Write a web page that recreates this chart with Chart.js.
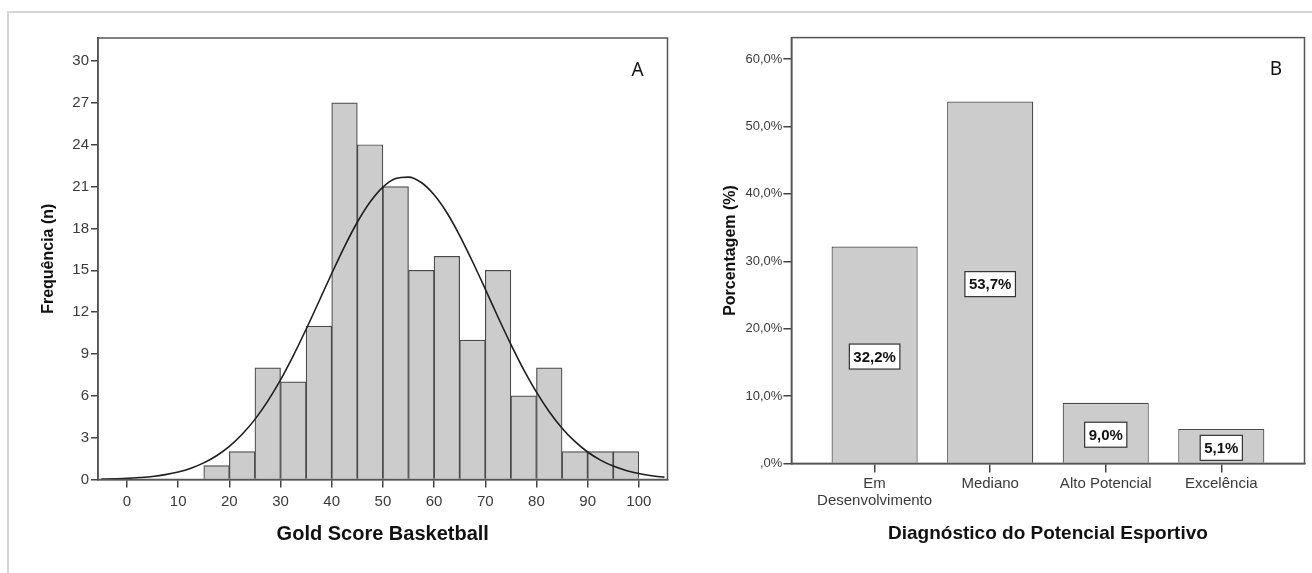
<!DOCTYPE html>
<html>
<head>
<meta charset="utf-8">
<script src="https://cdn.jsdelivr.net/npm/chart.js@4.4.1/dist/chart.umd.min.js"></script>
<style>
  body { margin: 0; background: #fff; width: 1312px; height: 573px; overflow: hidden; position: relative; }
  #frame { position: absolute; left: 7px; top: 11px; width: 1400px; height: 700px; border-left: 2px solid #d6d6d6; border-top: 2px solid #d6d6d6; }
  #chartA { position: absolute; left: 0; top: 0; }
  #chartB { position: absolute; left: 690px; top: 0; }
</style>
</head>
<body>
<div id="frame"></div>
<canvas id="chartA" width="690" height="573"></canvas>
<canvas id="chartB" width="622" height="573"></canvas>
<script>
// Panel A - histogram of Gold Score Basketball (bins of width 5)
const binCenters = [17.5, 22.5, 27.5, 32.5, 37.5, 42.5, 47.5, 52.5, 57.5, 62.5, 67.5, 72.5, 77.5, 82.5, 87.5, 92.5, 97.5];
const binCounts = [1, 2, 8, 7, 11, 27, 24, 21, 15, 16, 10, 15, 6, 8, 2, 2, 2];

// normal curve
const curveX = [-5, -2.5, 0, 2.5, 5, 7.5, 10, 12.5, 15, 17.5, 20, 22.5, 25, 27.5, 30, 32.5, 35, 37.5, 40, 42.5, 45, 47.5, 50,
  52.5, 55, 57.5, 60, 62.5, 65, 67.5, 70, 72.5, 75, 77.5, 80, 82.5, 85, 87.5, 90, 92.5, 95, 97.5, 100, 102.5, 105];
const curveY = [0.03, 0.05, 0.08, 0.14, 0.22, 0.35, 0.54, 0.81, 1.19, 1.70, 2.37, 3.24, 4.31, 5.62, 7.14, 8.88, 10.77, 12.76, 14.77, 16.70, 18.44, 19.89, 20.96,
  21.57, 21.68, 21.29, 20.41, 19.12, 17.49, 15.63, 13.65, 11.63, 9.69, 7.88, 6.26, 4.86, 3.68, 2.73, 1.97, 1.39, 0.96, 0.65, 0.43, 0.27, 0.17];

// Panel B - diagnostico do potencial esportivo
const categoriesB = [["Em", "Desenvolvimento"], "Mediano", "Alto Potencial", "Excelência"];
const pctB = [32.2, 53.7, 9.0, 5.1];

const SANS = '"Liberation Sans", Arial, sans-serif';
const AXIS = "#444";
const TICKTXT = "#3a3a3a";

function fmtPct(v) {
    return v.toFixed(1).replace(".", ",") + "%";
}

// box around the plot area
const boxFrame = {
    id: "boxFrame",
    afterDraw(chart) {
        const { ctx, chartArea: a } = chart;
        ctx.save();
        ctx.strokeStyle = "#555";
        ctx.lineWidth = 1.5;
        ctx.strokeRect(a.left, a.top, a.right - a.left, a.bottom - a.top);
        ctx.restore();
    },
};

// panel letter (A / B)
const panelLetter = {
    id: "panelLetter",
    afterDraw(chart, args, opts) {
        const { ctx, chartArea: a } = chart;
        ctx.save();
        ctx.font = '19px "Noto Sans", "Open Sans", sans-serif';
        ctx.fillStyle = "#111";
        ctx.textAlign = "center";
        ctx.textBaseline = "middle";
        ctx.fillText(opts.text, a.right + opts.dx, a.top + opts.dy);
        ctx.restore();
    },
};

// white boxed value labels inside the bars
const valueBoxes = {
    id: "valueBoxes",
    afterDatasetsDraw(chart) {
        const ctx = chart.ctx;
        const meta = chart.getDatasetMeta(0);
        ctx.save();
        ctx.font = "bold 15px " + SANS;
        ctx.textAlign = "center";
        ctx.textBaseline = "middle";
        meta.data.forEach((bar, i) => {
            const txt = fmtPct(pctB[i]);
            const cy = (bar.y + bar.base) / 2 + 2;
            const w = ctx.measureText(txt).width + 8;
            const h = 25;
            ctx.fillStyle = "#fff";
            ctx.fillRect(bar.x - w / 2, cy - h / 2, w, h);
            ctx.strokeStyle = "#333";
            ctx.lineWidth = 1.2;
            ctx.strokeRect(bar.x - w / 2, cy - h / 2, w, h);
            ctx.fillStyle = "#111";
            ctx.fillText(txt, bar.x, cy + 1);
        });
        ctx.restore();
    },
};

new Chart(document.getElementById("chartA"), {
    type: "bar",
    data: {
        datasets: [
            {
                type: "line",
                data: curveX.map((x, i) => ({ x: x, y: curveY[i] })),
                borderColor: "#1e1e1e",
                borderWidth: 1.6,
                pointRadius: 0,
                cubicInterpolationMode: "monotone",
                order: 0,
            },
            {
                data: binCenters.map((x, i) => ({ x: x, y: binCounts[i] })),
                backgroundColor: "#cccccc",
                borderColor: "#4a4a4a",
                borderWidth: 1.2,
                barPercentage: 1,
                categoryPercentage: 1,
                order: 1,
            },
        ],
    },
    options: {
        responsive: false,
        animation: false,
        layout: { padding: { top: 38, right: 22.5, left: 0, bottom: 0 } },
        plugins: {
            legend: { display: false },
            tooltip: { enabled: false },
            panelLetter: { text: "A", dx: -30, dy: 33 },
        },
        scales: {
            x: {
                type: "linear",
                offset: false,
                min: -5.66,
                max: 105.6,
                ticks: { stepSize: 10, includeBounds: false, color: TICKTXT, font: { family: SANS, size: 15 }, padding: 5, maxRotation: 0 },
                grid: { offset: false, drawOnChartArea: false, drawTicks: true, tickLength: 8, tickColor: AXIS, lineWidth: 1.5 },
                border: { display: true, color: AXIS, width: 1.5 },
                title: { display: true, text: "Gold Score Basketball", color: "#111", font: { family: SANS, size: 20, weight: "bold" }, padding: { top: 0, bottom: 27 } },
                afterFit: (s) => { s.height = 93.5; },
            },
            y: {
                min: 0,
                max: 31.65,
                ticks: { stepSize: 3, includeBounds: false, color: TICKTXT, font: { family: SANS, size: 15 }, padding: 2 },
                grid: { drawOnChartArea: false, drawTicks: true, tickLength: 7, tickColor: AXIS, lineWidth: 1.5 },
                border: { display: true, color: AXIS, width: 1.5 },
                title: { display: true, text: "Frequência (n)", color: "#111", font: { family: SANS, size: 16, weight: "bold" }, padding: { top: 39, bottom: 0 } },
                afterFit: (s) => { s.width = 98; },
            },
        },
    },
    plugins: [boxFrame, panelLetter],
});

new Chart(document.getElementById("chartB"), {
    type: "bar",
    data: {
        datasets: [
            {
                data: pctB.map((v, i) => ({ x: i, y: v })),
                backgroundColor: "#cccccc",
                borderColor: "#4a4a4a",
                borderWidth: 1.2,
                barPercentage: 0.745,
                categoryPercentage: 1,
            },
        ],
    },
    options: {
        responsive: false,
        animation: false,
        layout: { padding: { top: 37.6, right: 7.5, left: 0, bottom: 0 } },
        plugins: {
            legend: { display: false },
            tooltip: { enabled: false },
            panelLetter: { text: "B", dx: -28.5, dy: 32 },
        },
        scales: {
            x: {
                type: "linear",
                offset: false,
                min: -0.72,
                max: 3.72,
                afterBuildTicks: (s) => {
                    s.ticks = categoriesB.map((c, i) => ({ value: i }));
                },
                ticks: {
                    callback: (v) => categoriesB[v],
                    color: TICKTXT,
                    font: { family: SANS, size: 15, lineHeight: 1.15 },
                    padding: 3,
                    maxRotation: 0,
                    autoSkip: false,
                },
                grid: { offset: false, drawOnChartArea: false, drawTicks: true, tickLength: 9, tickColor: AXIS, lineWidth: 1.5 },
                border: { display: true, color: AXIS, width: 1.5 },
                title: { display: true, text: "Diagnóstico do Potencial Esportivo", color: "#111", font: { family: SANS, size: 19, weight: "bold" }, padding: { top: 0, bottom: 27.6 } },
                afterFit: (s) => { s.height = 109.6; },
            },
            y: {
                min: 0,
                max: 63.2,
                ticks: {
                    stepSize: 10,
                    includeBounds: false,
                    callback: (v) => (v === 0 ? ",0%" : fmtPct(v)),
                    color: TICKTXT,
                    font: { family: SANS, size: 13 },
                    padding: 1,
                },
                grid: { drawOnChartArea: false, drawTicks: true, tickLength: 8, tickColor: AXIS, lineWidth: 1.5 },
                border: { display: true, color: AXIS, width: 1.5 },
                title: { display: true, text: "Porcentagem (%)", color: "#111", font: { family: SANS, size: 16, weight: "bold" }, padding: { top: 31.1, bottom: 0 } },
                afterFit: (s) => { s.width = 101.4; },
            },
        },
    },
    plugins: [boxFrame, panelLetter, valueBoxes],
});
</script>
</body>
</html>
